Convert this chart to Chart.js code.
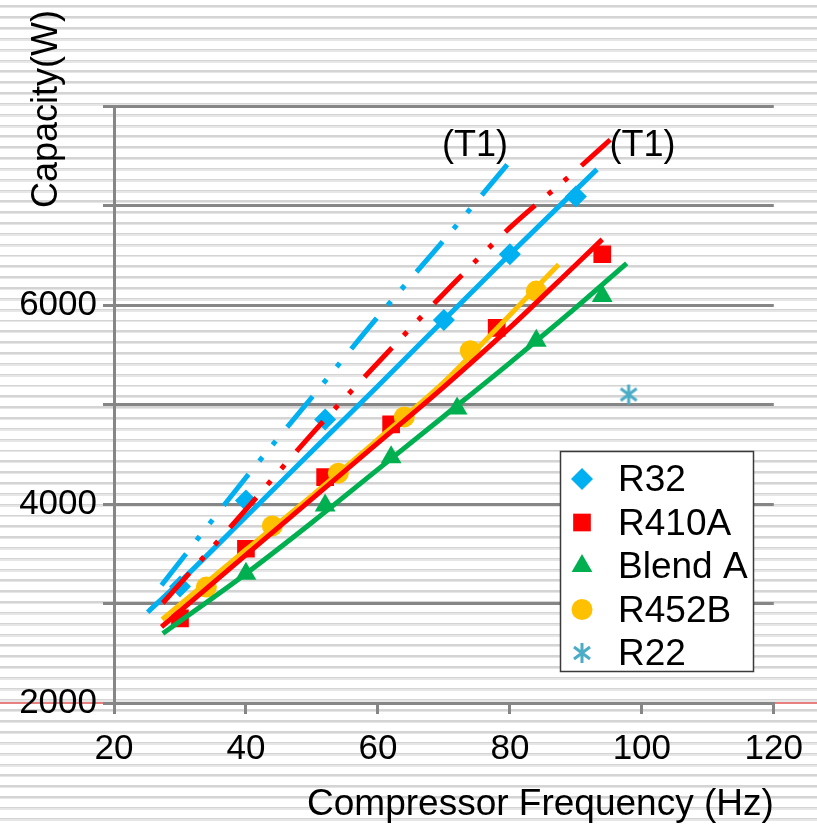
<!DOCTYPE html>
<html>
<head>
<meta charset="utf-8">
<script src="https://cdn.jsdelivr.net/npm/chart.js@4/dist/chart.umd.min.js"></script>
<style>
html, body { margin: 0; padding: 0; }
body {
  width: 817px; height: 827px; overflow: hidden; position: relative;
  background: repeating-linear-gradient(to bottom,
    #ffffff 0px, #ffffff 5.5px,
    #d4d4d4 5.5px, #d4d4d4 7px,
    #e6e6e6 7px, #e6e6e6 8.4px,
    #ffffff 8.4px, #ffffff 10.83px);
}
#redline { position: absolute; left: 0; top: 702px; width: 817px; height: 2px; background: #e98080; }
canvas { position: absolute; left: 0; top: 0; }
</style>
</head>
<body>
<div id="redline"></div>
<canvas id="c" width="817" height="827"></canvas>
<script>
// ---------------- data ----------------
const xTicks = [20, 40, 60, 80, 100, 120];
const yTickLabels = [2000, 4000, 6000];
const legendNames = ['R32', 'R410A', 'Blend A', 'R452B', 'R22'];

// measured points
const r32Freq = [30, 40, 52, 70, 80, 90];
const r32Cap = [3170, 4035, 4850, 5850, 6510, 7090];
const r410aFreq = [30, 40, 52, 62, 78, 94];
const r410aCap = [2850, 3550, 4270, 4800, 5770, 6510];
const blendAFreq = [40, 52, 62, 72, 84, 94];
const blendACap = [3300, 3985, 4470, 4960, 5640, 6090];
const r452bFreq = [34, 44, 54, 64, 74, 84];
const r452bCap = [3165, 3780, 4310, 4875, 5540, 6140];
const r22Freq = [98];
const r22Cap = [5100];

// trend lines
const r32FitFreq = [25.1, 30, 40, 52, 60, 70, 80, 93.2];
const r32FitCap = [2912, 3217, 3872, 4662, 5185, 5850, 6510, 7363];
const r410aFitFreq = [27.2, 40, 50, 60, 70, 80, 90, 94];
const r410aFitCap = [2765, 3488, 4051, 4614, 5177, 5772, 6405, 6659];
const r452bFitFreq = [27.3, 40, 50, 60, 70, 80, 87.4];
const r452bFitCap = [2839, 3540, 4085, 4650, 5225, 5900, 6408];
const blendAFitFreq = [27.4, 40, 50, 60, 70, 80, 90, 97.7];
const blendAFitCap = [2699, 3300, 3814, 4348, 4882, 5419, 5973, 6418];

// (T1) lines
const r32T1Freq = [27.2, 40, 50, 60, 70, 79.6];
const r32T1Cap = [3183, 4266, 5073, 5882, 6651, 7411];
const r410aT1Freq = [27.4, 40, 50, 60, 70, 80, 90, 95.2];
const r410aT1Cap = [3005, 3945, 4705, 5420, 6116, 6777, 7350, 7661];

// text annotations
const noteText = ['(T1)', '(T1)'];
const noteFreq = [74.7, 100.1];
const noteCap = [7600, 7600];

// ---------------- helpers ----------------
const pts = (xs, ys) => xs.map((x, i) => ({ x: x, y: ys[i] }));
const FONT = "'Liberation Sans', Arial, Helvetica, sans-serif";
Chart.defaults.font.family = FONT;
Chart.defaults.color = '#000';

const C_BLUE = '#00b0f0', C_RED = '#ff0000', C_GREEN = '#00b050', C_YEL = '#ffc000', C_TEAL = '#4bacc6';
const T1_DASH = [40, 17, 5, 16, 5, 18];

// asterisk marker for R22
const star = document.createElement('canvas');
star.width = 22; star.height = 22;
(function () {
  const g = star.getContext('2d');
  g.strokeStyle = C_TEAL; g.lineWidth = 3; g.lineCap = 'butt';
  g.beginPath();
  g.moveTo(11, 1); g.lineTo(11, 21);
  g.moveTo(3, 5); g.lineTo(19, 17);
  g.moveTo(19, 5); g.lineTo(3, 17);
  g.stroke();
})();

function lineDs(label, xs, ys, color, dash) {
  return {
    label: label, data: pts(xs, ys), showLine: true,
    borderColor: color, backgroundColor: color, borderWidth: 5,
    borderDash: dash || [], borderCapStyle: 'butt',
    pointRadius: 0, pointHoverRadius: 0, cubicInterpolationMode: 'monotone', fill: false
  };
}
function markDs(label, xs, ys, color, style, r) {
  return {
    label: label, data: pts(xs, ys), showLine: false,
    backgroundColor: color, borderColor: color, borderWidth: 0,
    pointStyle: style, pointRadius: r, pointHoverRadius: r
  };
}

// index 0 is drawn on top
const datasets = [
  lineDs('R410A (T1)', r410aT1Freq, r410aT1Cap, C_RED, T1_DASH),
  lineDs('R32 (T1)', r32T1Freq, r32T1Cap, C_BLUE, T1_DASH),
  lineDs('R32 fit', r32FitFreq, r32FitCap, C_BLUE),
  lineDs('R410A fit', r410aFitFreq, r410aFitCap, C_RED),
  lineDs('R452B fit', r452bFitFreq, r452bFitCap, C_YEL),
  lineDs('Blend A fit', blendAFitFreq, blendAFitCap, C_GREEN),
  markDs('R452B', r452bFreq, r452bCap, C_YEL, 'circle', 10.5),
  markDs('R32', r32Freq, r32Cap, C_BLUE, 'rectRot', 11),
  markDs('R410A', r410aFreq, r410aCap, C_RED, 'rect', 12.5),
  markDs('Blend A', blendAFreq, blendACap, C_GREEN, 'triangle', 12),
  markDs('R22', r22Freq, r22Cap, C_TEAL, star, 11)
];

// ---------------- plugins ----------------
const annotPlugin = {
  id: 'annot',
  afterDatasetsDraw(chart) {
    const ctx = chart.ctx, xs = chart.scales.x, ys = chart.scales.y;
    ctx.save();
    ctx.fillStyle = '#000';
    ctx.font = '36px ' + FONT;
    ctx.textAlign = 'center'; ctx.textBaseline = 'middle';
    noteText.forEach((t, i) => {
      ctx.fillText(t, xs.getPixelForValue(noteFreq[i]), ys.getPixelForValue(noteCap[i]));
    });
    ctx.restore();
  }
};

const yTitlePlugin = {
  id: 'yTitle',
  afterDraw(chart) {
    const ctx = chart.ctx;
    ctx.save();
    ctx.fillStyle = '#000';
    ctx.font = '36px ' + FONT;
    ctx.textAlign = 'center'; ctx.textBaseline = 'middle';
    ctx.translate(47, 109);
    ctx.rotate(-Math.PI / 2);
    ctx.fillText('Capacity(W)', 0, 0);
    ctx.restore();
  }
};

const boxLegend = {
  id: 'boxLegend',
  afterDraw(chart) {
    const ctx = chart.ctx;
    ctx.save();
    const bx = 560.5, by = 451.5, bw = 193, bh = 220;
    ctx.fillStyle = '#ffffff';
    ctx.fillRect(bx, by, bw, bh);
    ctx.strokeStyle = '#3a3a3a'; ctx.lineWidth = 1.5;
    ctx.strokeRect(bx, by, bw, bh);
    ctx.font = '37px ' + FONT;
    ctx.textAlign = 'left'; ctx.textBaseline = 'middle';
    legendNames.forEach((name, i) => {
      const ds = chart.data.datasets.find(d => d.label === name);
      const cy = 479 + i * 43.5;
      ctx.fillStyle = ds.backgroundColor; ctx.strokeStyle = ds.borderColor;
      if (Chart.helpers && Chart.helpers.drawPoint) {
        Chart.helpers.drawPoint(ctx, { pointStyle: ds.pointStyle, rotation: 0, radius: ds.pointRadius, borderWidth: 0 }, 582, cy);
      }
      ctx.fillStyle = '#000';
      ctx.fillText(name, 618, cy + 2);
    });
    ctx.restore();
  }
};

// ---------------- chart ----------------
new Chart(document.getElementById('c'), {
  type: 'scatter',
  data: { datasets: datasets },
  options: {
    responsive: false,
    animation: false,
    events: [],
    layout: { padding: { top: 106, right: 39, left: 0, bottom: 0 } },
    plugins: { legend: { display: false }, tooltip: { enabled: false }, title: { display: false } },
    scales: {
      x: {
        type: 'linear', position: 'bottom', min: 20, max: 120,
        afterBuildTicks: (s) => { s.ticks = xTicks.map(v => ({ value: v })); },
        ticks: { font: { size: 35 }, color: '#000', padding: 14, maxRotation: 0, autoSkip: false },
        grid: { display: true, drawOnChartArea: false, drawTicks: true, tickLength: 11, color: '#868686', lineWidth: 3 },
        border: { display: true, color: '#868686', width: 3 },
        title: { display: true, text: 'Compressor Frequency (Hz)', align: 'end', color: '#000',
                 font: { size: 37 }, padding: { top: 0, bottom: 0 } },
        afterFit: (s) => { s.height = 124; }
      },
      y: {
        type: 'linear', position: 'left', min: 2000, max: 8000,
        ticks: { stepSize: 1000, font: { size: 35 }, color: '#000', padding: 6,
                 callback: (v) => yTickLabels.includes(v) ? String(v) : '' },
        grid: { color: '#868686', lineWidth: 3, tickLength: 11, drawTicks: true },
        border: { display: true, color: '#868686', width: 3 },
        afterFit: (s) => { s.width = 114; }
      }
    }
  },
  plugins: [annotPlugin, yTitlePlugin, boxLegend]
});
</script>
</body>
</html>
